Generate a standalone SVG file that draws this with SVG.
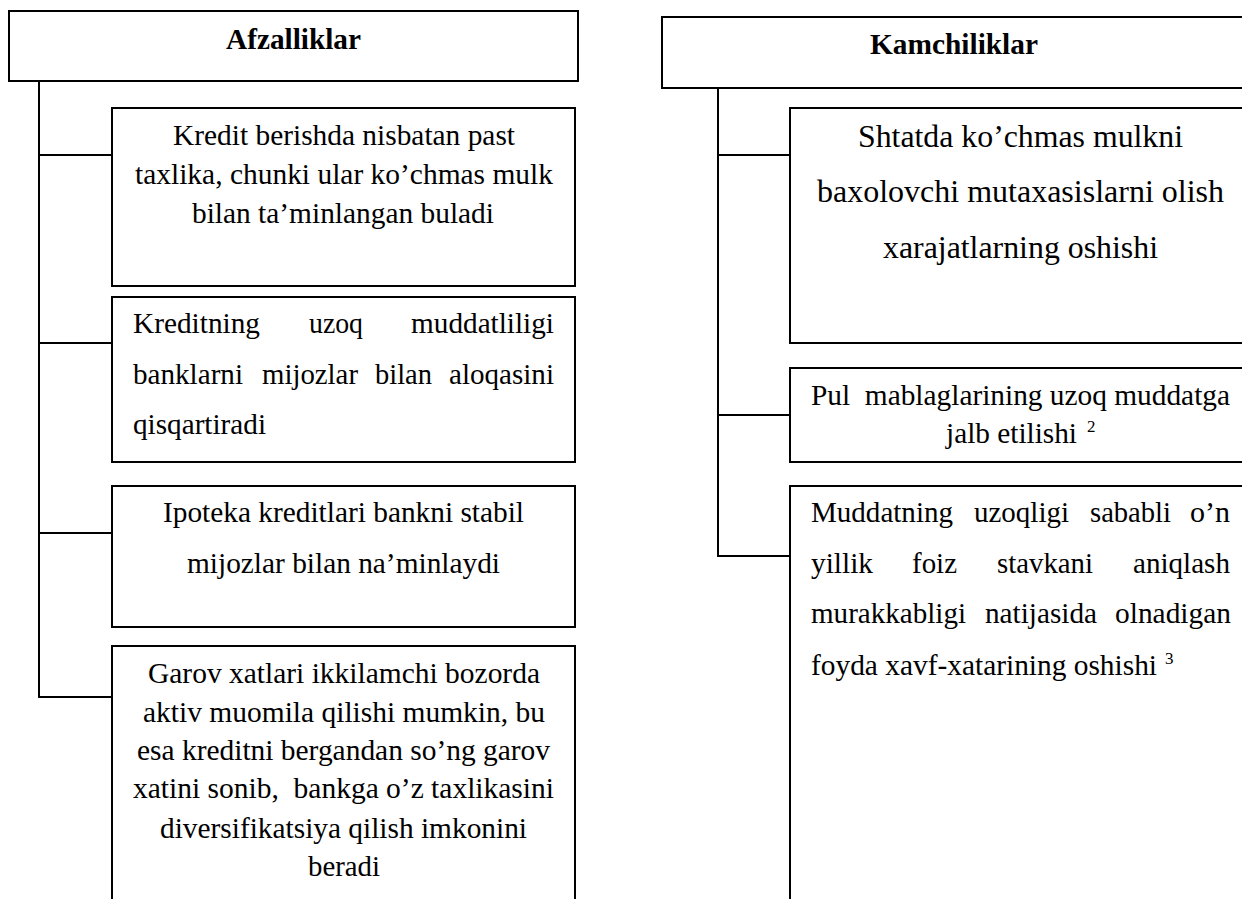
<svg xmlns="http://www.w3.org/2000/svg" width="1242" height="899" viewBox="0 0 1242 899">
<style>
.box{fill:#fff;stroke:#000;stroke-width:2}
.ln{fill:none;stroke:#000;stroke-width:2}
.t{font-family:"Liberation Serif","Times New Roman",serif;font-size:29.5px;fill:#000}
.t1{font-family:"Liberation Serif","Times New Roman",serif;font-size:32px;fill:#000}
.h{font-family:"Liberation Serif","Times New Roman",serif;font-size:29px;font-weight:bold;fill:#000}
.sup{font-family:"Liberation Serif","Times New Roman",serif;font-size:17px;fill:#000}
</style>
<rect width="1242" height="899" fill="#fff"/>
<g id="connectors">
<path class="ln" d="M39,81 V697 H112 M39,155 H112 M39,343 H112 M39,533 H112"/>
<path class="ln" d="M718,84 V556 H790 M718,155 H790 M718,415 H790"/>
</g>
<g id="afzalliklar">
<rect class="box" x="9" y="11" width="569" height="70"/>
<text class="h" x="226" y="49" textLength="135" lengthAdjust="spacingAndGlyphs">Afzalliklar</text>
</g>
<g id="a1">
<rect class="box" x="112" y="108" width="463" height="178"/>
<text class="t" x="173" y="145" textLength="342" lengthAdjust="spacingAndGlyphs">Kredit berishda nisbatan past</text>
<text class="t" x="135" y="184" textLength="418" lengthAdjust="spacingAndGlyphs">taxlika, chunki ular ko’chmas mulk</text>
<text class="t" x="192" y="223" textLength="302" lengthAdjust="spacingAndGlyphs">bilan ta’minlangan buladi</text>
</g>
<g id="a2">
<rect class="box" x="112" y="297" width="463" height="165"/>
<text class="t" x="133" y="333" textLength="127" lengthAdjust="spacingAndGlyphs">Kreditning</text>
<text class="t" x="309" y="333" textLength="54" lengthAdjust="spacingAndGlyphs">uzoq</text>
<text class="t" x="411" y="333" textLength="143" lengthAdjust="spacingAndGlyphs">muddatliligi</text>
<text class="t" x="133" y="384" textLength="110" lengthAdjust="spacingAndGlyphs">banklarni</text>
<text class="t" x="262" y="384" textLength="96" lengthAdjust="spacingAndGlyphs">mijozlar</text>
<text class="t" x="375" y="384" textLength="57" lengthAdjust="spacingAndGlyphs">bilan</text>
<text class="t" x="449" y="384" textLength="105" lengthAdjust="spacingAndGlyphs">aloqasini</text>
<text class="t" x="133" y="434" textLength="133" lengthAdjust="spacingAndGlyphs">qisqartiradi</text>
</g>
<g id="a3">
<rect class="box" x="112" y="486" width="463" height="141"/>
<text class="t" x="163" y="522" textLength="361" lengthAdjust="spacingAndGlyphs">Ipoteka kreditlari bankni stabil</text>
<text class="t" x="187" y="573" textLength="313" lengthAdjust="spacingAndGlyphs">mijozlar bilan na’minlaydi</text>
</g>
<g id="a4">
<rect class="box" x="112" y="646" width="463" height="300"/>
<text class="t" x="148" y="683" textLength="392" lengthAdjust="spacingAndGlyphs">Garov xatlari ikkilamchi bozorda</text>
<text class="t" x="143" y="722" textLength="402" lengthAdjust="spacingAndGlyphs">aktiv muomila qilishi mumkin, bu</text>
<text class="t" x="137" y="760" textLength="413" lengthAdjust="spacingAndGlyphs">esa kreditni bergandan so’ng garov</text>
<text class="t" x="133" y="798" textLength="421" lengthAdjust="spacingAndGlyphs">xatini sonib,&#160; bankga o’z taxlikasini</text>
<text class="t" x="160" y="838" textLength="367" lengthAdjust="spacingAndGlyphs">diversifikatsiya qilish imkonini</text>
<text class="t" x="308" y="876" textLength="72" lengthAdjust="spacingAndGlyphs">beradi</text>
</g>
<g id="kamchiliklar">
<rect class="box" x="662" y="17" width="600" height="71"/>
<text class="h" x="870" y="54" textLength="168" lengthAdjust="spacingAndGlyphs">Kamchiliklar</text>
</g>
<g id="k1">
<rect class="box" x="790" y="108" width="470" height="235"/>
<text class="t1" x="858" y="147" textLength="325" lengthAdjust="spacingAndGlyphs">Shtatda ko’chmas mulkni</text>
<text class="t1" x="817" y="202" textLength="407" lengthAdjust="spacingAndGlyphs">baxolovchi mutaxasislarni olish</text>
<text class="t1" x="883" y="258" textLength="275" lengthAdjust="spacingAndGlyphs">xarajatlarning oshishi</text>
</g>
<g id="k2">
<rect class="box" x="790" y="368" width="470" height="94"/>
<text class="t" x="811" y="405" textLength="419" lengthAdjust="spacingAndGlyphs">Pul&#160; mablaglarining uzoq muddatga</text>
<text class="t" x="946" y="443" textLength="131" lengthAdjust="spacingAndGlyphs">jalb etilishi</text>
<text class="sup" x="1087" y="432">2</text>
</g>
<g id="k3">
<rect class="box" x="790" y="486" width="470" height="450"/>
<text class="t" x="811" y="522" textLength="142" lengthAdjust="spacingAndGlyphs">Muddatning</text>
<text class="t" x="974" y="522" textLength="95" lengthAdjust="spacingAndGlyphs">uzoqligi</text>
<text class="t" x="1090" y="522" textLength="81" lengthAdjust="spacingAndGlyphs">sababli</text>
<text class="t" x="1190" y="522" textLength="40" lengthAdjust="spacingAndGlyphs">o’n</text>
<text class="t" x="811" y="573" textLength="62" lengthAdjust="spacingAndGlyphs">yillik</text>
<text class="t" x="912" y="573" textLength="45" lengthAdjust="spacingAndGlyphs">foiz</text>
<text class="t" x="997" y="573" textLength="96" lengthAdjust="spacingAndGlyphs">stavkani</text>
<text class="t" x="1133" y="573" textLength="97" lengthAdjust="spacingAndGlyphs">aniqlash</text>
<text class="t" x="811" y="623" textLength="155" lengthAdjust="spacingAndGlyphs">murakkabligi</text>
<text class="t" x="985" y="623" textLength="112" lengthAdjust="spacingAndGlyphs">natijasida</text>
<text class="t" x="1115" y="623" textLength="116" lengthAdjust="spacingAndGlyphs">olnadigan</text>
<text class="t" x="811" y="675" textLength="346" lengthAdjust="spacingAndGlyphs">foyda xavf-xatarining oshishi</text>
<text class="sup" x="1165" y="664">3</text>
</g>
</svg>
